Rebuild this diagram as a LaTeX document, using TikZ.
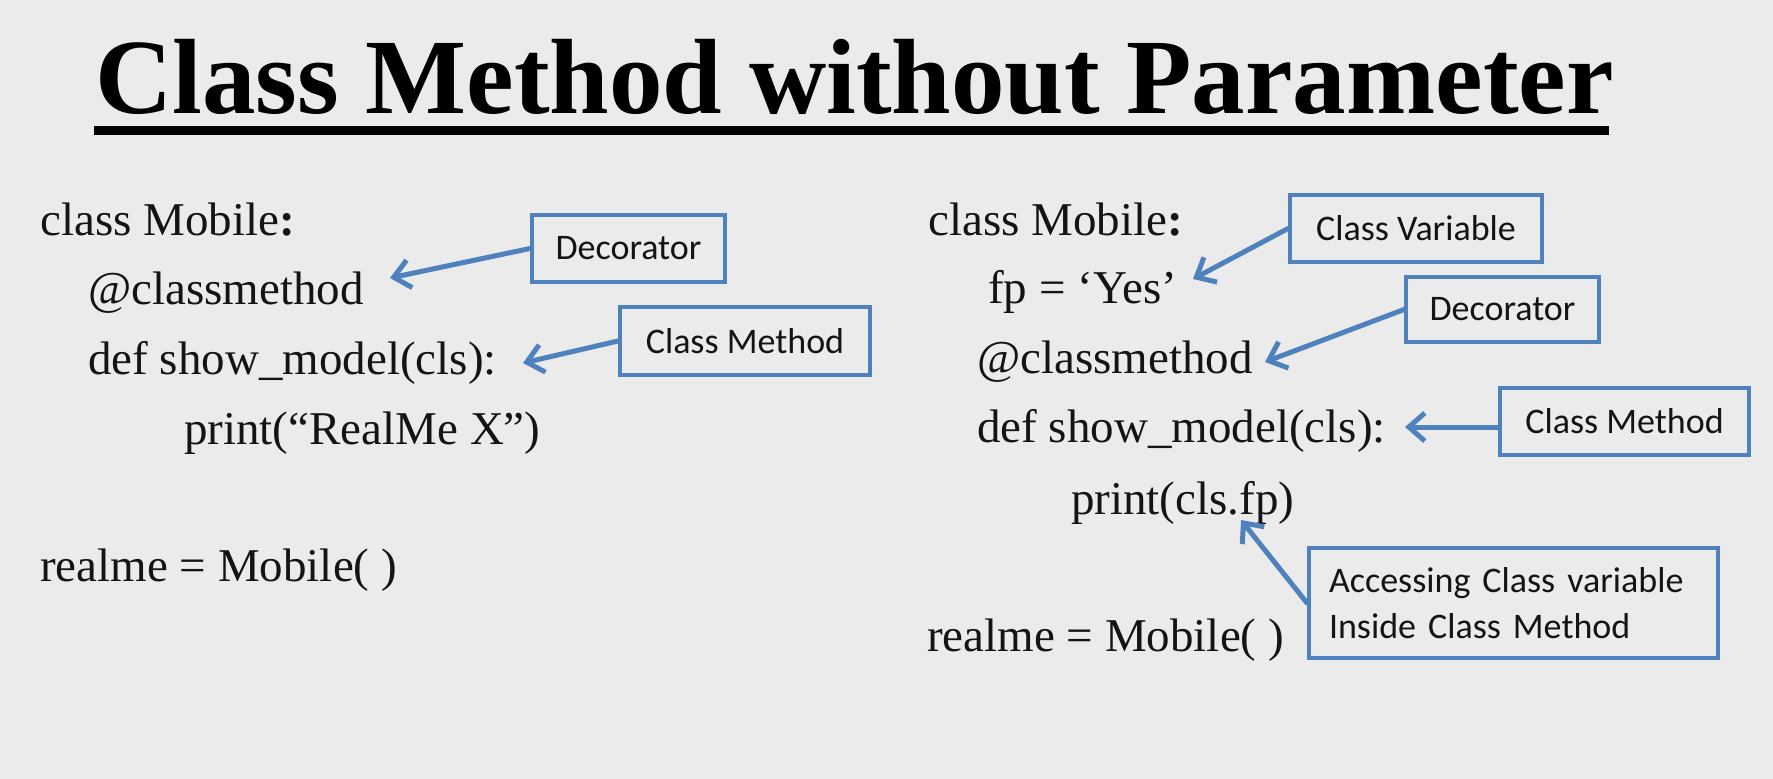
\documentclass[tikz,border=0pt]{standalone}
\usepackage{fontspec}
\setmainfont{Liberation Serif}
\newfontfamily\codefont{Liberation Serif}
\newfontfamily\notefont{Carlito}
\usetikzlibrary{arrows.meta}
\definecolor{slidebg}{RGB}{235,235,235}
\definecolor{callout}{RGB}{79,129,189}
\definecolor{ink}{RGB}{20,20,20}

\begin{document}
\begin{tikzpicture}[x=1pt,y=-1pt,
  code/.style={anchor=base west, inner sep=0pt, text=ink,
    font=\codefont\fontsize{47}{56}\selectfont},
  note/.style={draw=callout, line width=4pt, inner sep=0pt, text=ink,
    font=\notefont\fontsize{36}{46}\selectfont},
  pointer/.style={draw=callout, line width=5pt, line cap=round,
    -{Straight Barb[length=16pt,width=28pt,line width=5pt]}}
]
% slide background
\fill[slidebg] (0,0) rectangle (1773,779);
\useasboundingbox (0,0) rectangle (1773,779);

% heading and its rule
\node[anchor=base west, inner sep=0pt, text=black,
  font=\bfseries\fontsize{107}{120}\selectfont] (title) at (95,113)
  {Class Method without Parameter};
\fill[black] (94,126) rectangle (1609,135);

% left listing
\node[code] (l1) at (40,235)  {class Mobile\textbf{:}};
\node[code] (l2) at (88,304)  {@classmethod};
\node[code] (l3) at (88,374)  {def show\_model(cls):};
\node[code] (l4) at (184,444) {print(“RealMe X”)};
\node[code] (l5) at (40,581)  {realme = Mobile( )};

% right listing
\node[code] (r1) at (928,235)  {class Mobile\textbf{:}};
\node[code] (r2) at (988,303)  {fp = ‘Yes’};
\node[code] (r3) at (977,373)  {@classmethod};
\node[code] (r4) at (977,442)  {def show\_model(cls):};
\node[code] (r5) at (1071,514) {print(cls.fp)};
\node[code] (r6) at (927,651)  {realme = Mobile( )};

% callout boxes
\node[note, minimum width=193pt, minimum height=67pt] (dec1) at (628.5,248.5) {Decorator};
\node[note, minimum width=250pt, minimum height=68pt] (cm1)  at (745,341)     {Class Method};
\node[note, minimum width=252pt, minimum height=67pt] (cv)   at (1416,228.5)  {Class Variable};
\node[note, minimum width=193pt, minimum height=65pt] (dec2) at (1502.5,309.5) {Decorator};
\node[note, minimum width=249pt, minimum height=67pt] (cm2)  at (1624.5,421.5) {Class Method};
\node[note, minimum height=110pt, text width=369pt, inner xsep=20pt, align=left]
  (acc) at (1513.5,603) {Accessing Class variable\\Inside Class Method};

% arrow targets
\coordinate (t1) at (390,278);
\coordinate (t2) at (523,363);
\coordinate (t3) at (1193,279);
\coordinate (t4) at (1265,362);
\coordinate (t5) at (1405,427);
\coordinate (t6) at (1241,520);

% pointers
\draw[pointer] (dec1.west) -- (t1);
\draw[pointer] (cm1.west) -- (t2);
\draw[pointer] (cv.west) -- (t3);
\draw[pointer] (dec2.west) -- (t4);
\draw[pointer] (cm2.west |- t5) -- (t5);
\draw[pointer] (acc.west) -- (t6);
\end{tikzpicture}
\end{document}
